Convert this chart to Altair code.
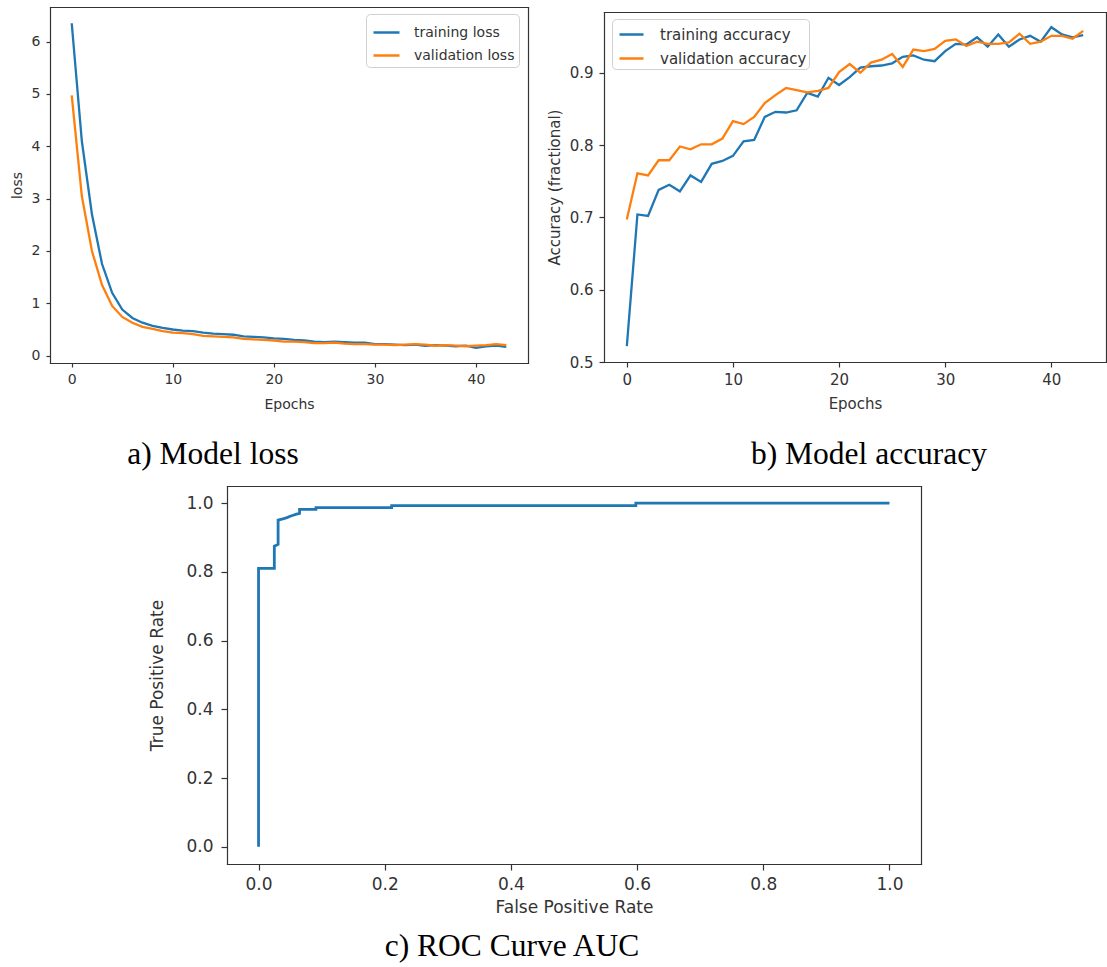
import altair as alt
import pandas as pd

# ---------------- data ----------------
epochs = list(range(44))
train_loss = [6.35, 4.1, 2.7, 1.75, 1.2, 0.88, 0.72, 0.63, 0.57, 0.53, 0.50, 0.48, 0.47, 0.44,
              0.42, 0.41, 0.40, 0.37, 0.36, 0.35, 0.33, 0.32, 0.30, 0.29, 0.27, 0.26, 0.27, 0.26,
              0.25, 0.25, 0.22, 0.22, 0.21, 0.20, 0.21, 0.19, 0.20, 0.19, 0.18, 0.19, 0.15, 0.18,
              0.19, 0.17]
val_loss = [4.97, 3.05, 2.0, 1.35, 0.95, 0.74, 0.63, 0.55, 0.51, 0.47, 0.44, 0.43, 0.41, 0.38,
            0.37, 0.36, 0.35, 0.32, 0.31, 0.30, 0.29, 0.27, 0.27, 0.26, 0.24, 0.24, 0.25, 0.23,
            0.22, 0.22, 0.21, 0.21, 0.20, 0.21, 0.22, 0.21, 0.19, 0.20, 0.19, 0.18, 0.19, 0.20,
            0.22, 0.20]
train_acc = [0.522, 0.704, 0.702, 0.738, 0.745, 0.736, 0.758, 0.749, 0.774, 0.778, 0.785, 0.805,
             0.807, 0.839, 0.846, 0.845, 0.848, 0.872, 0.867, 0.893, 0.883, 0.894, 0.907, 0.909,
             0.910, 0.913, 0.922, 0.924, 0.918, 0.916, 0.930, 0.940, 0.939, 0.949, 0.936, 0.953,
             0.936, 0.946, 0.951, 0.943, 0.963, 0.953, 0.949, 0.952]
val_acc = [0.697, 0.761, 0.758, 0.779, 0.779, 0.798, 0.794, 0.801, 0.801, 0.809, 0.833, 0.829,
           0.839, 0.858, 0.869, 0.879, 0.876, 0.873, 0.875, 0.879, 0.901, 0.912, 0.900, 0.914,
           0.918, 0.926, 0.908, 0.932, 0.930, 0.933, 0.944, 0.946, 0.937, 0.943, 0.940, 0.940,
           0.942, 0.954, 0.940, 0.943, 0.951, 0.951, 0.947, 0.958]
roc_fpr = [0.0, 0.0, 0.025, 0.025, 0.031, 0.031, 0.04, 0.045, 0.05, 0.055, 0.06, 0.065, 0.065,
           0.091, 0.091, 0.211, 0.211, 0.598, 0.598, 1.0]
roc_tpr = [0.0, 0.81, 0.81, 0.875, 0.88, 0.951, 0.955, 0.958, 0.962, 0.965, 0.968, 0.97, 0.982,
           0.982, 0.987, 0.987, 0.993, 0.993, 1.0, 1.0]

loss_series = ["training loss", "validation loss"]
acc_series = ["training accuracy", "validation accuracy"]
captions = ["a) Model loss", "b) Model accuracy", "c) ROC Curve AUC"]
epoch_ticks = [0, 10, 20, 30, 40]
loss_ticks = [0, 1, 2, 3, 4, 5, 6]
acc_ticks = [0.5, 0.6, 0.7, 0.8, 0.9]
roc_ticks = [0.0, 0.2, 0.4, 0.6, 0.8, 1.0]

# ---------------- tables ----------------
n = len(epochs)
loss_df = pd.DataFrame({
    "epoch": epochs + epochs,
    "value": train_loss + val_loss,
    "series": [loss_series[0]] * n + [loss_series[1]] * n,
})
acc_df = pd.DataFrame({
    "epoch": epochs + epochs,
    "value": train_acc + val_acc,
    "series": [acc_series[0]] * n + [acc_series[1]] * n,
})
roc_df = pd.DataFrame({"fpr": roc_fpr, "tpr": roc_tpr, "idx": list(range(len(roc_fpr)))})

BLUE = "#1f77b4"
ORANGE = "#ff7f0e"
FONT = "DejaVu Sans"
SERIF = "Liberation Serif"
W, H = 1107, 967


def main_axis(values, fmt, fs, orient, offset, title, tx, ty, tick, pad):
    return alt.Axis(values=values, format=fmt, orient=orient, offset=offset, title=title,
                    titleX=tx, titleY=ty, titleBaseline="middle", titleAlign="center",
                    titleAngle=270 if orient == "left" else 0, labelFontSize=fs,
                    titleFontSize=fs, tickSize=tick, labelPadding=pad, domain=True,
                    domainCap="square", grid=False, labelFlush=False)


def frame_axis(orient, offset):
    return alt.Axis(orient=orient, offset=offset, labels=False, ticks=False, title=None,
                    domain=True, domainCap="square", grid=False)


def legend(x, y, fs, sym, pad, row_pad, label_off, sym_off):
    return alt.Legend(title=None, orient="none", legendX=x, legendY=y, labelFontSize=fs,
                      labelFont=FONT, labelColor="#333", symbolType="stroke",
                      symbolSize=sym * sym, symbolStrokeWidth=2.5, symbolOffset=sym_off,
                      padding=pad, rowPadding=row_pad, labelOffset=label_off,
                      strokeColor="#d0d0d0", fillColor="white", cornerRadius=4)


# ---------------- a) loss ----------------
lx = alt.Scale(domain=[-2.15, 45.15], range=[50, 528], nice=False, zero=False)
ly = alt.Scale(domain=[-0.14, 6.66], range=[363, 7], nice=False, zero=False)
loss_main = alt.Chart(loss_df).mark_line(strokeWidth=2.3).encode(
    x=alt.X("epoch:Q", scale=lx,
            axis=main_axis(epoch_ticks, "d", 14, "bottom", 363 - H, "Epochs", 289, 41, 4, 5)),
    y=alt.Y("value:Q", scale=ly,
            axis=main_axis(loss_ticks, "d", 14, "left", -50, "loss", -33, 185, 4, 6)),
    color=alt.Color("series:N", scale=alt.Scale(domain=loss_series, range=[BLUE, ORANGE]),
                    legend=legend(366, 14, 14, 26, 4, 1, 13, 2)),
)
loss_frame = alt.Chart(loss_df).mark_line(opacity=0).encode(
    x=alt.X("epoch:Q", scale=lx, axis=frame_axis("top", -7)),
    y=alt.Y("value:Q", scale=ly, axis=frame_axis("right", 528 - W)),
)

# ---------------- b) accuracy ----------------
ax = alt.Scale(domain=[-2.15, 45.15], range=[604, 1106], nice=False, zero=False)
ay = alt.Scale(domain=[0.5, 0.984], range=[362, 12], nice=False, zero=False)
acc_main = alt.Chart(acc_df).mark_line(strokeWidth=2.3).encode(
    x=alt.X("epoch:Q", scale=ax,
            axis=main_axis(epoch_ticks, "d", 15, "bottom", 362 - H, "Epochs", 855, 41, 5, 5)),
    y=alt.Y("value:Q", scale=ay,
            axis=main_axis(acc_ticks, ".1f", 15, "left", -604, "Accuracy (fractional)",
                           -50, 187, 5, 6)),
    color=alt.Color("series:N", scale=alt.Scale(domain=acc_series, range=[BLUE, ORANGE]),
                    legend=legend(612, 19, 15, 24, 2, 2, 15, 4)),
)
acc_frame = alt.Chart(acc_df).mark_line(opacity=0).encode(
    x=alt.X("epoch:Q", scale=ax, axis=frame_axis("top", -12)),
    y=alt.Y("value:Q", scale=ay, axis=frame_axis("right", 1106 - W)),
)

# ---------------- c) ROC ----------------
rx = alt.Scale(domain=[-0.05, 1.05], range=[227, 921], nice=False, zero=False)
ry = alt.Scale(domain=[-0.05, 1.05], range=[864, 486], nice=False, zero=False)
roc_main = alt.Chart(roc_df).mark_line(strokeWidth=2.8, color=BLUE).encode(
    x=alt.X("fpr:Q", scale=rx,
            axis=main_axis(roc_ticks, ".1f", 17, "bottom", 864 - H, "False Positive Rate",
                           574, 43, 6, 6)),
    y=alt.Y("tpr:Q", scale=ry,
            axis=main_axis(roc_ticks, ".1f", 17, "left", -227, "True Positive Rate",
                           -70, 675, 6, 8)),
    order=alt.Order("idx:Q"),
)
roc_frame = alt.Chart(roc_df).mark_line(opacity=0).encode(
    x=alt.X("fpr:Q", scale=rx, axis=frame_axis("top", -486)),
    y=alt.Y("tpr:Q", scale=ry, axis=frame_axis("right", 921 - W)),
)


# ---------------- captions ----------------
def caption(text, x, y):
    return alt.Chart(pd.DataFrame({"caption": [text]})).mark_text(
        font=SERIF, fontSize=31.5, color="black", align="center", baseline="alphabetic"
    ).encode(text="caption:N", x=alt.value(x), y=alt.value(y))


cap_a = caption(captions[0], 213, 464)
cap_b = caption(captions[1], 869, 464)
cap_c = caption(captions[2], 512, 956)

chart = alt.layer(
    loss_main, loss_frame, acc_main, acc_frame, roc_main, roc_frame, cap_a, cap_b, cap_c
).resolve_scale(
    x="independent", y="independent", color="independent"
).properties(
    width=W, height=H, autosize=alt.AutoSizeParams(type="none"), padding=0,
    background="white"
).configure_view(
    stroke=None
).configure_axis(
    labelFont=FONT, titleFont=FONT, labelColor="#333", titleColor="#333",
    titleFontWeight="normal", tickColor="#333", domainColor="#333",
    domainWidth=1.2, tickWidth=1.2, grid=False
)

chart.save("out.html", embed_options={"renderer": "svg", "actions": False})
